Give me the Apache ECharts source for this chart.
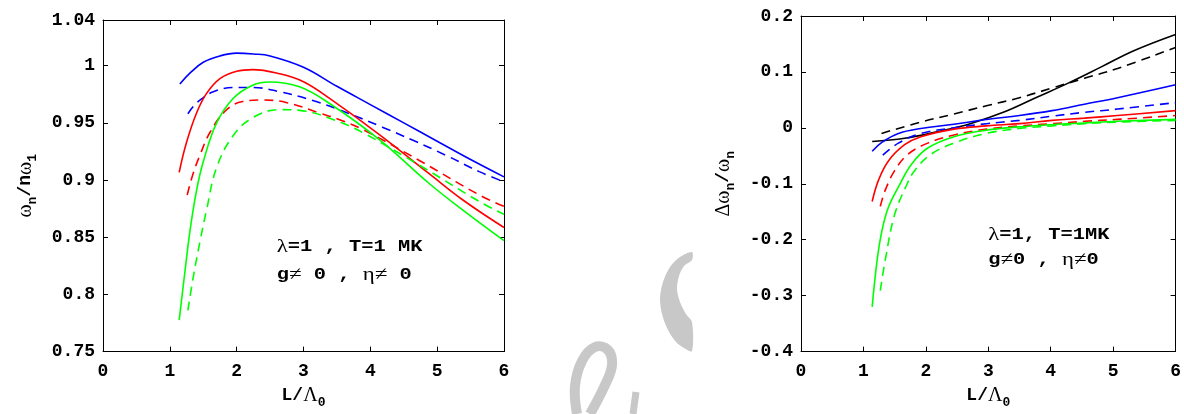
<!DOCTYPE html>
<html>
<head>
<meta charset="utf-8">
<script src="https://cdn.jsdelivr.net/npm/echarts@6/dist/echarts.min.js"></script>
<style>
  html, body { margin: 0; padding: 0; background: #fff; }
  #chart { width: 1184px; height: 414px; }
</style>
</head>
<body>
<div id="chart"></div>
<script>
// ---- Normalised frequency ω_n / nω_1 versus L/Λ0 (left panel) ----
const freqBlueSolid = [[1.15,0.984],[1.3,0.9935],[1.5,1.003],[1.75,1.0086],[2.0,1.011],[2.25,1.0103],[2.5,1.0086],[3.0,0.9987],[3.5,0.982],[4.0,0.966],[4.5,0.950],[5.0,0.934],[5.5,0.918],[6.0,0.9028]];
const freqBlueDash  = [[1.27,0.958],[1.37,0.9658],[1.5,0.972],[1.65,0.9773],[1.95,0.981],[2.24,0.981],[2.64,0.9773],[3.14,0.9696],[3.54,0.9614],[4.18,0.9463],[4.63,0.935],[5.13,0.9217],[5.63,0.9074],[6.0,0.8985]];
const freqRedSolid  = [[1.14,0.9068],[1.25,0.933],[1.4,0.9587],[1.55,0.9758],[1.75,0.9887],[2.0,0.9952],[2.24,0.9966],[2.64,0.993],[3.0,0.986],[3.39,0.9714],[4.13,0.940],[4.88,0.9056],[5.38,0.8828],[6.0,0.8585]];
const freqRedDash   = [[1.26,0.887],[1.35,0.906],[1.45,0.9217],[1.6,0.9416],[1.85,0.9616],[2.09,0.9687],[2.39,0.970],[2.74,0.9679],[3.24,0.9587],[3.54,0.9528],[3.89,0.9442],[4.78,0.9156],[5.63,0.887],[6.0,0.877]];
const freqGreenSolid= [[1.14,0.7776],[1.22,0.817],[1.3,0.855],[1.4,0.891],[1.5,0.916],[1.7,0.950],[1.95,0.9716],[2.24,0.983],[2.49,0.9858],[2.94,0.9816],[3.39,0.967],[4.13,0.9356],[4.88,0.897],[5.38,0.874],[6.0,0.847]];
const freqGreenDash = [[1.27,0.786],[1.35,0.815],[1.45,0.846],[1.55,0.874],[1.7,0.911],[1.95,0.939],[2.24,0.9545],[2.64,0.9616],[2.94,0.961],[3.44,0.953],[3.89,0.9414],[4.78,0.9114],[5.63,0.8813],[6.0,0.870]];

// ---- Relative shift Δω_n / ω_n versus L/Λ0 (right panel) ----
const shiftBlackSolid = [[1.14,-0.0243],[1.66,-0.0186],[2.18,-0.007],[2.71,0.0075],[3.24,0.0278],[3.76,0.0539],[4.28,0.080],[4.81,0.109],[5.33,0.1379],[6.0,0.167]];
const shiftBlackDash  = [[1.29,-0.0099],[1.92,0.0104],[2.45,0.0249],[2.97,0.0395],[3.5,0.0539],[4.02,0.0713],[4.54,0.0887],[5.07,0.1061],[6.0,0.1438]];
const shiftBlueSolid  = [[1.14,-0.0417],[1.3,-0.0256],[1.56,-0.0099],[1.92,-0.0012],[2.45,0.0064],[2.97,0.0151],[3.5,0.0221],[4.02,0.0308],[4.54,0.0423],[5.07,0.0539],[6.0,0.077]];
const shiftBlueDash   = [[1.31,-0.0487],[1.56,-0.0273],[1.92,-0.0099],[2.45,0.0],[2.97,0.0075],[3.5,0.0134],[4.02,0.0209],[4.54,0.0278],[5.07,0.0336],[6.0,0.0452]];
const shiftRedSolid   = [[1.14,-0.1317],[1.24,-0.0939],[1.4,-0.0591],[1.66,-0.0301],[1.92,-0.0157],[2.45,-0.0023],[2.97,0.0035],[3.5,0.0075],[4.02,0.0134],[4.54,0.0174],[5.07,0.0221],[6.0,0.0308]];
const shiftRedDash    = [[1.27,-0.1403],[1.35,-0.1113],[1.5,-0.0765],[1.71,-0.0475],[2.03,-0.0273],[2.45,-0.0127],[2.97,-0.0023],[3.5,0.0035],[4.02,0.0075],[4.54,0.0117],[5.07,0.0151],[6.0,0.0221]];
const shiftGreenSolid = [[1.14,-0.32],[1.22,-0.236],[1.3,-0.182],[1.4,-0.142],[1.56,-0.1056],[1.77,-0.0649],[2.03,-0.036],[2.45,-0.0157],[2.97,-0.004],[3.5,0.0017],[4.02,0.0057],[4.54,0.0087],[5.07,0.0117],[6.0,0.0151]];
const shiftGreenDash  = [[1.27,-0.291],[1.35,-0.236],[1.5,-0.155],[1.69,-0.1026],[1.82,-0.0765],[2.08,-0.0475],[2.45,-0.0273],[2.97,-0.0099],[3.5,-0.0012],[4.02,0.0035],[4.54,0.0075],[5.07,0.0104],[6.0,0.0134]];

// axis ranges [min, max, interval]
const xRange = [0, 6, 1];
const freqRange = [0.75, 1.04, 0.05];
const shiftRange = [-0.4, 0.2, 0.1];

const MONO = 'Liberation Mono';
const SERIF = 'Liberation Serif';

const tickFont = { fontFamily: MONO, fontWeight: 'bold', fontSize: 18, color: '#000' };
const richTitle = {
  m: { fontFamily: MONO, fontWeight: 'bold', fontSize: 18, color: '#000' },
  g: { fontFamily: SERIF, fontSize: 20, color: '#000' },
  s: { fontFamily: MONO, fontWeight: 'bold', fontSize: 13, color: '#000', padding: [14, 0, 0, 0] }
};

function xAxisOf(gi, top) {
  return {
    type: 'value', gridIndex: gi, position: top ? 'top' : 'bottom',
    min: xRange[0], max: xRange[1], interval: xRange[2],
    axisLine: { show: true, onZero: false, lineStyle: { color: '#000', width: 1 } },
    axisTick: { show: true, inside: true, length: 5, lineStyle: { color: '#000', width: 1 } },
    axisLabel: Object.assign({ show: !top, margin: 11 }, tickFont),
    splitLine: { show: false },
    name: top ? '' : '{m|L/}{g|Λ}{s|0}',
    nameLocation: 'middle', nameGap: 27,
    nameTextStyle: { rich: richTitle }
  };
}
function yAxisOf(gi, right, range, name) {
  return {
    type: 'value', gridIndex: gi, position: right ? 'right' : 'left',
    min: range[0], max: range[1], interval: range[2],
    axisLine: { show: true, onZero: false, lineStyle: { color: '#000', width: 1 } },
    axisTick: { show: true, inside: true, length: 5, lineStyle: { color: '#000', width: 1 } },
    axisLabel: Object.assign({ show: !right, margin: 8 }, tickFont),
    splitLine: { show: false },
    name: right ? '' : name,
    nameLocation: 'middle', nameGap: 64,
    nameTextStyle: { rich: richTitle }
  };
}
function curve(gi, data, color, dashed) {
  return {
    type: 'line', xAxisIndex: gi * 2, yAxisIndex: gi * 2,
    data: data, smooth: 0.4, symbol: 'none', silent: true,
    lineStyle: { color: color, width: 1.6, type: dashed ? [9, 6] : 'solid' },
    z: 3
  };
}

const chart = echarts.init(document.getElementById('chart'), null, { renderer: 'canvas' });
chart.setOption({
  backgroundColor: '#fff',
  animation: false,
  grid: [
    { left: 103, top: 20, width: 401, height: 338, show: false },
    { left: 801, top: 16, width: 381, height: 345, show: false }
  ],
  xAxis: [xAxisOf(0, false), xAxisOf(0, true), xAxisOf(1, false), xAxisOf(1, true)],
  yAxis: [
    yAxisOf(0, false, freqRange, '{g|ω}{s|n}{m|/n}{g|ω}{s|1}'),
    yAxisOf(0, true, freqRange, ''),
    yAxisOf(1, false, shiftRange, '{g|Δω}{s|n}{m|/}{g|ω}{s|n}'),
    yAxisOf(1, true, shiftRange, '')
  ],
  series: [
    curve(0, freqBlueSolid, '#0000ff', false),
    curve(0, freqBlueDash, '#0000ff', true),
    curve(0, freqRedSolid, '#ff0000', false),
    curve(0, freqRedDash, '#ff0000', true),
    curve(0, freqGreenSolid, '#00ff00', false),
    curve(0, freqGreenDash, '#00ff00', true),
    curve(1, shiftBlackSolid, '#000000', false),
    curve(1, shiftBlackDash, '#000000', true),
    curve(1, shiftBlueSolid, '#0000ff', false),
    curve(1, shiftBlueDash, '#0000ff', true),
    curve(1, shiftRedSolid, '#ff0000', false),
    curve(1, shiftRedDash, '#ff0000', true),
    curve(1, shiftGreenSolid, '#00ff00', false),
    curve(1, shiftGreenDash, '#00ff00', true)
  ]
});

// parameter notes, anchored in data coordinates of each panel
const noteRich = {
  m: { fontFamily: MONO, fontWeight: 'bold', fontSize: 17, color: '#000' },
  g: { fontFamily: SERIF, fontSize: 19, color: '#000' }
};
const notes = [
  { gi: 0, at: [2.6, 0.8415], text: '{g|λ}{m|=1 , T=1 MK}' },
  { gi: 0, at: [2.6, 0.817],  text: '{m|g}{g|≠}{m| 0 , }{g|η≠}{m| 0}' },
  { gi: 1, at: [3.0, -0.1908], text: '{g|λ}{m|=1, T=1MK}' },
  { gi: 1, at: [3.0, -0.236],  text: '{m|g}{g|≠}{m|0 , }{g|η≠}{m|0}' }
];
const graphics = notes.map(function (n) {
  const p = chart.convertToPixel({ xAxisIndex: n.gi * 2, yAxisIndex: n.gi * 2 }, n.at);
  return {
    type: 'text', x: p[0], y: p[1], scaleX: 1.2, z: 10,
    style: { text: n.text, rich: noteRich, align: 'left', verticalAlign: 'middle' }
  };
});

// faint grey emblem in the lower middle of the page
graphics.push(
  { type: 'polygon', z: 0, silent: true,
    shape: { smooth: 0.3, points: [[692,252],[680,257],[670,267],[663,282],[660,298],[662,314],[668,330],[676,342],[684,348],[692,351],[692,322],[686,314],[680,302],[677,289],[679,276],[684,266],[692,260]] },
    style: { fill: '#c8c8c8' } },
  { type: 'polyline', z: 0, silent: true,
    shape: { smooth: 0.4, points: [[577,414],[575,386],[582,361],[595,347],[608,350],[612,365],[605,385],[590,414]] },
    style: { fill: null, stroke: '#c8c8c8', lineWidth: 10 } },
  { type: 'line', z: 0, silent: true,
    shape: { x1: 636, y1: 392, x2: 633, y2: 414 },
    style: { stroke: '#c8c8c8', lineWidth: 7 } }
);
chart.setOption({ graphic: graphics });
</script>
</body>
</html>
